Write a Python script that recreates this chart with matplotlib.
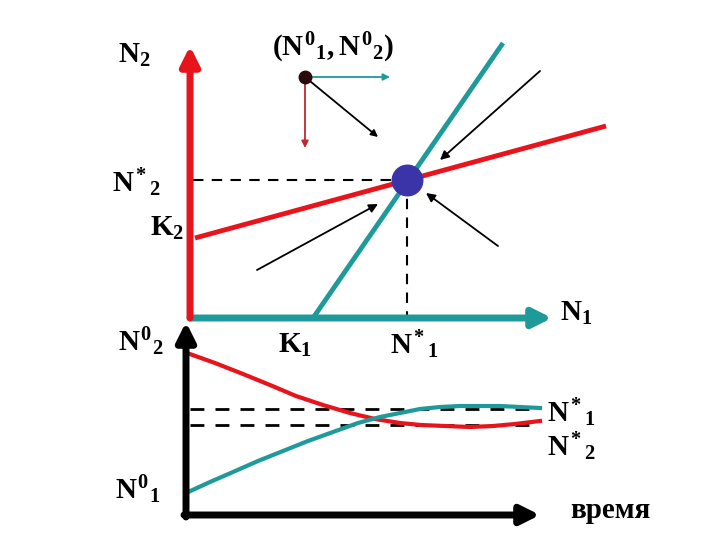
import numpy as np
import matplotlib
matplotlib.use("Agg")
import matplotlib.pyplot as plt

plt.rcParams['mathtext.fontset'] = 'custom'
plt.rcParams['mathtext.rm'] = 'Liberation Serif:bold'
plt.rcParams['mathtext.it'] = 'Liberation Serif:bold'
plt.rcParams['mathtext.bf'] = 'Liberation Serif:bold'

RED = '#e8141b'
TEAL = '#1f9a9a'
BLUE = '#3a34a8'

# phase plane (pixel-like coordinates, y down)
n1_axis = [(190, 318), (552, 318)]
n2_axis = [(190, 318), (190, 46)]
teal_iso = [(313, 318), (503, 43)]
red_iso = [(195, 238), (606, 126)]
equil = (407, 180)
start = (305, 77)
start_arrows = [((305, 77), (390, 77), TEAL), ((305, 77), (305, 148), '#c0282d'), ((305, 77), (378, 137), 'black')]
flow_arrows = [((540, 71), (440, 160)), ((257, 270), (378, 204)), ((498, 246), (426, 193))]

# time series panel
red_x = [187, 215, 243, 270, 296, 323, 350, 375, 400, 421, 445, 470, 493, 515, 540]
red_y = [353, 363, 374, 385, 396, 405, 413, 419, 423, 425, 426, 427, 426, 424, 421]
teal_x = [186, 210, 233, 258, 283, 308, 333, 358, 380, 400, 420, 440, 460, 480, 500, 520, 540]
teal_y = [493, 482, 472, 461, 451, 441, 432, 423, 417, 413, 409, 407, 406, 406, 406, 407, 408]
eq_levels = [409, 425]

labels = [
    (118, 55, r'$N_2$'),
    (272, 48, r'$(N^0{}_1, N^0{}_2)$'),
    (112, 183, r'$N^{\!*}{}_2$'),
    (150, 228, r'$K_2$'),
    (118, 342, r'$N^0{}_2$'),
    (278, 345, r'$K_1$'),
    (390, 345, r'$N^{\!*}{}_1$'),
    (560, 313, r'$N_1$'),
    (547, 413, r'$N^{\!*}{}_1$'),
    (547, 447, r'$N^{\!*}{}_2$'),
    (115, 490, r'$N^0{}_1$'),
]

fig = plt.figure(figsize=(7.2, 5.4), dpi=100)
ax = fig.add_axes([0, 0, 1, 1])
ax.set_xlim(0, 720)
ax.set_ylim(540, 0)
ax.axis('off')

# dashed guides
ax.plot([193, equil[0]], [equil[1], equil[1]], ls=(0, (5, 4)), color='black', lw=1.5)
ax.plot([equil[0], equil[0]], [equil[1], 316], ls=(0, (5, 4)), color='black', lw=1.5)

# isoclines
ax.plot(*zip(*teal_iso), color=TEAL, lw=3.5, solid_capstyle='butt')
ax.plot(*zip(*red_iso), color=RED, lw=3.5, solid_capstyle='butt')

# axes of phase plane
ax.annotate('', xy=n1_axis[1], xytext=n1_axis[0],
            arrowprops=dict(arrowstyle='-|>', color=TEAL, lw=5, mutation_scale=28, shrinkA=0, shrinkB=0))
ax.annotate('', xy=n2_axis[1], xytext=n2_axis[0],
            arrowprops=dict(arrowstyle='-|>', color=RED, lw=5, mutation_scale=28, shrinkA=0, shrinkB=0))

ax.plot(*equil, 'o', ms=22, color=BLUE, zorder=5)
ax.plot(*start, 'o', ms=9, color='#2a0a0a', zorder=5)

for p0, p1, c in start_arrows:
    ax.annotate('', xy=p1, xytext=p0,
                arrowprops=dict(arrowstyle='-|>', color=c, lw=1.3, mutation_scale=10, shrinkA=0, shrinkB=0))
for p0, p1 in flow_arrows:
    ax.annotate('', xy=p1, xytext=p0,
                arrowprops=dict(arrowstyle='-|>', color='black', lw=1.3, mutation_scale=13, shrinkA=0, shrinkB=0))

# time panel
for yv in eq_levels:
    ax.plot([190, 540], [yv, yv], ls=(0, (5, 4)), color='black', lw=2)
ax.plot(red_x, red_y, color=RED, lw=3)
ax.plot(teal_x, teal_y, color=TEAL, lw=3)
ax.annotate('', xy=(186, 322), xytext=(186, 517),
            arrowprops=dict(arrowstyle='-|>', color='black', lw=5, mutation_scale=28, shrinkA=0, shrinkB=0))
ax.annotate('', xy=(540, 515), xytext=(184, 515),
            arrowprops=dict(arrowstyle='-|>', color='black', lw=5, mutation_scale=28, shrinkA=0, shrinkB=0))

for x, y, s in labels:
    ax.text(x, y, s, fontsize=21, ha='left', va='center')
ax.text(570, 510, 'время', fontsize=21, family='Liberation Serif', fontweight='bold', va='center', ha='left')

fig.savefig('out.png', dpi=100)
